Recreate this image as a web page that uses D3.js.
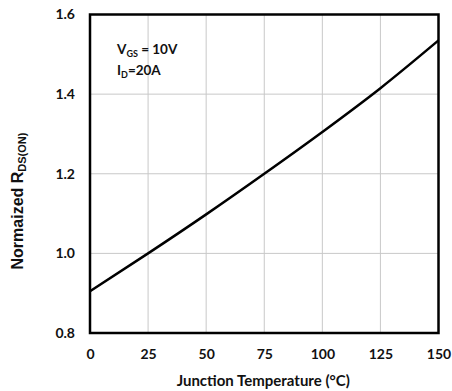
<!DOCTYPE html>
<html>
<head>
<meta charset="utf-8">
<script src="https://cdn.jsdelivr.net/npm/d3@7"></script>
<style>
  html, body { margin: 0; padding: 0; background: #fff; }
  svg { display: block; font-family: Lato, "Open Sans", sans-serif; font-weight: bold; }
</style>
</head>
<body>
<svg id="chart" width="452" height="391"></svg>
<script>
// Junction temperature (°C) and normalized on-resistance
const temperatures = [0, 25, 50, 75, 100, 125, 150];
const rdsNormalized = [0.905, 1.0, 1.098, 1.2, 1.305, 1.415, 1.535];
const xTicks = [0, 25, 50, 75, 100, 125, 150];
const yTicks = [0.8, 1.0, 1.2, 1.4, 1.6];

const svg = d3.select("#chart");
const margin = { left: 90, top: 14.5, right: 13.5, bottom: 58 };
const W = 452, H = 391;

const x = d3.scaleLinear().domain([0, 150]).range([margin.left, W - margin.right]);
const y = d3.scaleLinear().domain([0.8, 1.6]).range([H - margin.bottom, margin.top]);

// Grid
const grid = svg.append("g").attr("stroke", "#c8c8c8").attr("stroke-width", 1);
xTicks.slice(1, -1).forEach(t => {
  grid.append("line").attr("x1", x(t)).attr("x2", x(t)).attr("y1", y(1.6)).attr("y2", y(0.8));
});
yTicks.slice(1, -1).forEach(t => {
  grid.append("line").attr("x1", x(0)).attr("x2", x(150)).attr("y1", y(t)).attr("y2", y(t));
});

// Axes tick labels
const xAxis = d3.axisBottom(x).tickValues(xTicks).tickSize(0).tickPadding(16).tickFormat(d3.format("d"));
const gx = svg.append("g").attr("transform", `translate(0,${y(0.8)})`).call(xAxis);
gx.select(".domain").remove();
gx.selectAll("text").attr("font-size", 14).attr("font-family", "Lato, 'Open Sans', sans-serif").attr("font-weight", "bold").attr("fill", "#111");

const yAxis = d3.axisLeft(y).tickValues(yTicks).tickSize(0).tickPadding(15).tickFormat(d3.format(".1f"));
const gy = svg.append("g").attr("transform", `translate(${x(0)},0)`).call(yAxis);
gy.select(".domain").remove();
gy.selectAll("text").attr("font-size", 14).attr("font-family", "Lato, 'Open Sans', sans-serif").attr("font-weight", "bold").attr("fill", "#111");

// Curve
const line = d3.line().x((d, i) => x(temperatures[i])).y(d => y(d)).curve(d3.curveMonotoneX);
svg.append("path").datum(rdsNormalized)
  .attr("d", line).attr("fill", "none").attr("stroke", "#000").attr("stroke-width", 2.5);

// Frame
svg.append("rect")
  .attr("x", x(0)).attr("y", y(1.6))
  .attr("width", x(150) - x(0)).attr("height", y(0.8) - y(1.6))
  .attr("fill", "none").attr("stroke", "#000").attr("stroke-width", 2.5);

// Condition annotation
const ann = svg.append("g").attr("font-size", 13.5).attr("fill", "#111");
const t1 = ann.append("text").attr("x", 117).attr("y", 54);
t1.append("tspan").text("V");
t1.append("tspan").attr("font-size", 9).attr("dy", 3).text("GS");
t1.append("tspan").attr("dy", -3).text(" = 10V");
const t2 = ann.append("text").attr("x", 117).attr("y", 75);
t2.append("tspan").text("I");
t2.append("tspan").attr("font-size", 9).attr("dy", 3).text("D");
t2.append("tspan").attr("dy", -3).text("=20A");

// Axis titles
svg.append("text").attr("x", (x(0) + x(150)) / 2 - 1).attr("y", 386)
  .attr("text-anchor", "middle").attr("font-size", 15).attr("fill", "#111")
  .text("Junction Temperature (°C)");

const yt = svg.append("text").attr("transform", `translate(23,${201}) rotate(-90)`)
  .attr("text-anchor", "middle").attr("font-size", 16)
  .attr("font-family", "'Liberation Sans', Arial, sans-serif").attr("fill", "#111");
yt.append("tspan").text("Normaized R");
yt.append("tspan").attr("font-size", 11).attr("dy", 3).text("DS(ON)");
</script>
</body>
</html>
